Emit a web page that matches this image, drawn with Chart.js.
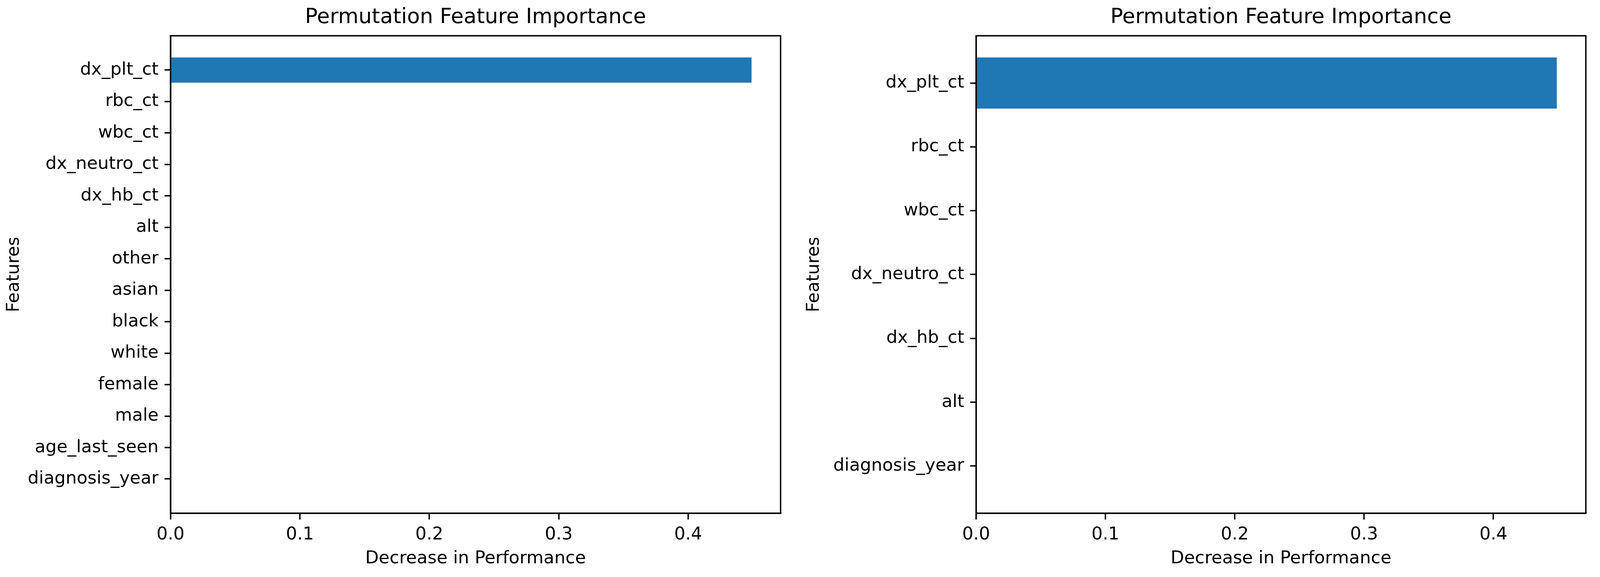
<!DOCTYPE html>
<html>
<head>
<meta charset="utf-8">
<script src="https://cdn.jsdelivr.net/npm/chart.js@4"></script>
<style>
  html, body { margin: 0; padding: 0; background: #fff; overflow: hidden; }
  .panel { position: absolute; top: 0; }
</style>
</head>
<body>
<div class="panel" id="leftPanel"><canvas id="leftChart"></canvas></div>
<div class="panel" id="rightPanel"><canvas id="rightChart"></canvas></div>
<script>
// features listed top to bottom as they appear
const leftFeatures = ["dx_plt_ct", "rbc_ct", "wbc_ct", "dx_neutro_ct", "dx_hb_ct", "alt", "other",
  "asian", "black", "white", "female", "male", "age_last_seen", "diagnosis_year"];
const leftImportance = [0.449, 0, 0, 0, 0, 0, 0, 0, 0, 0, 0, 0, 0, 0];

const rightFeatures = ["dx_plt_ct", "rbc_ct", "wbc_ct", "dx_neutro_ct", "dx_hb_ct", "alt", "diagnosis_year"];
const rightImportance = [0.449, 0, 0, 0, 0, 0, 0];

const xTickValues = [0, 0.1, 0.2, 0.3, 0.4];

// sizes below are measured on a 4288x1476 page; stretch them to the real viewport
const Sx = window.innerWidth / 4288;
const Sy = window.innerHeight / 1476;
const X = v => v * Sx;
const Y = v => v * Sy;
const F = v => v * Math.sqrt(Sx * Sy);

for (const [id, left] of [["leftPanel", 0], ["rightPanel", 2144]]) {
  const el = document.getElementById(id);
  el.style.left = X(left) + "px";
  el.style.width = X(2144) + "px";
  el.style.height = Y(1476) + "px";
}

Chart.defaults.font.family = "'DejaVu Sans', sans-serif";
Chart.defaults.color = "#000";

const frame = {
  id: "frame",
  afterDraw(chart) {
    const a = chart.chartArea, ctx = chart.ctx;
    ctx.save();
    ctx.strokeStyle = "#000";
    ctx.lineWidth = F(3.7);
    ctx.strokeRect(a.left, a.top, a.right - a.left, a.bottom - a.top);
    ctx.restore();
  }
};

function makeChart(id, labels, values, yWidth, rightPad) {
  const n = labels.length;
  const margin = (n - 1 + 0.8) * 0.05;   // matplotlib-style 5% margins
  const xMax = Math.max(...values) * 1.05;
  const tickGrid = len => ({
    offset: false, drawOnChartArea: false, drawTicks: true,
    tickLength: len, color: "#000", lineWidth: F(3.7)
  });
  return new Chart(document.getElementById(id), {
    type: "bar",
    data: {
      datasets: [{
        data: values.map((v, i) => ({ x: v, y: i })),
        backgroundColor: "#1f77b4",
        borderWidth: 0,
        barPercentage: 0.8,
        categoryPercentage: 1.0
      }]
    },
    options: {
      indexAxis: "y",
      responsive: true,
      maintainAspectRatio: false,
      animation: false,
      layout: { padding: { left: 0, right: X(rightPad), top: 0, bottom: 0 } },
      plugins: {
        legend: { display: false },
        tooltip: { enabled: false },
        title: {
          display: true,
          fullSize: false,
          text: "Permutation Feature Importance",
          font: { size: F(55), weight: "normal" },
          padding: { top: Y(13), bottom: Y(14) }
        }
      },
      scales: {
        x: {
          type: "linear",
          min: 0,
          max: xMax,
          afterBuildTicks: s => { s.ticks = xTickValues.map(v => ({ value: v })); },
          afterFit: s => { s.height = Y(163); },
          ticks: {
            includeBounds: false,
            font: { size: F(46) },
            padding: Y(12),
            callback: v => v.toFixed(1)
          },
          grid: tickGrid(Y(16)),
          border: { color: "#000", width: F(3.7) },
          title: { display: true, text: "Decrease in Performance", font: { size: F(46) }, padding: { top: Y(10), bottom: Y(20) } }
        },
        y: {
          type: "linear",
          reverse: true,
          offset: false,
          min: -0.4 - margin,
          max: n - 1 + 0.4 + margin,
          afterBuildTicks: s => { s.ticks = labels.map((_, i) => ({ value: i })); },
          afterFit: s => { s.width = X(yWidth); },
          ticks: {
            font: { size: F(46) },
            padding: X(16),
            callback: v => labels[v]
          },
          grid: tickGrid(X(16)),
          border: { color: "#000", width: F(3.7) },
          title: { display: true, text: "Features", font: { size: F(46) }, padding: { top: X(10), bottom: 0 } }
        }
      }
    },
    plugins: [frame]
  });
}

makeChart("leftChart", leftFeatures, leftImportance, 457, 52);
makeChart("rightChart", rightFeatures, rightImportance, 472, 38);
</script>
</body>
</html>
